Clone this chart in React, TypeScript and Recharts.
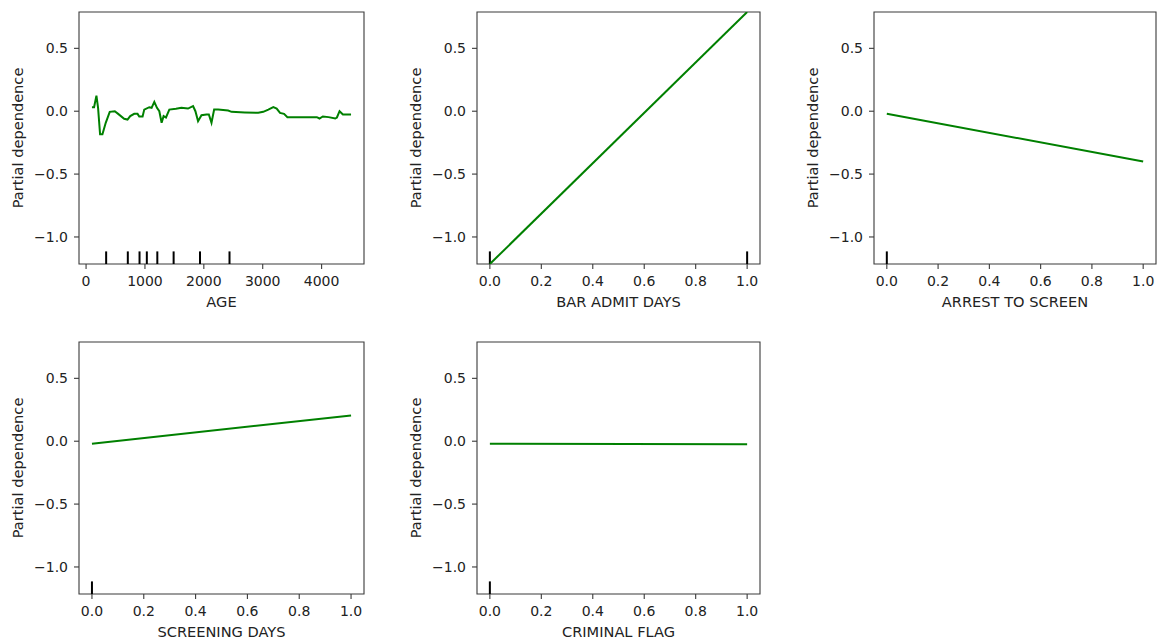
import { LineChart, Line, XAxis, YAxis, ReferenceLine, ReferenceArea, Label } from 'recharts';

// AGE partial dependence curve
const ageX = [
  100, 136, 176, 204, 238, 278, 334, 402, 488, 545,
  647, 704, 750, 818, 874, 903, 960, 988, 1073, 1113,
  1159, 1204, 1244, 1283, 1317, 1357, 1414, 1527, 1619, 1731,
  1817, 1857, 1902, 1960, 2045, 2085, 2130, 2175, 2243, 2413,
  2470, 2697, 2924, 3009, 3095, 3180, 3237, 3294, 3362, 3419,
  3577, 3919, 3964, 4021, 4118, 4231, 4260, 4305, 4362, 4431,
  4500,
];
const ageY = [
  0.032, 0.032, 0.124, 0.027, -0.184, -0.184, -0.092, -0.005, 0.0, -0.021,
  -0.06, -0.066, -0.039, -0.021, -0.021, -0.042, -0.042, 0.013, 0.032, 0.027,
  0.074, 0.027, 0.0, -0.092, -0.039, -0.05, 0.013, 0.02, 0.027, 0.021,
  0.04, 0.0, -0.079, -0.032, -0.026, -0.026, -0.092, 0.013, 0.013, 0.005,
  -0.005, -0.01, -0.013, -0.005, 0.013, 0.032, 0.021, -0.013, -0.021, -0.047,
  -0.047, -0.047, -0.058, -0.042, -0.047, -0.058, -0.05, 0.0, -0.026, -0.026,
  -0.026,
];
const ageDeciles = [341, 709, 908, 1032, 1210, 1487, 1935, 2436];

// binary features: value at 0 and at 1
const unitX = [0, 1];
const barAdmitY = [-1.215, 0.789];
const arrestY = [-0.02, -0.4];
const screeningY = [-0.02, 0.205];
const criminalY = [-0.02, -0.025];
const barAdmitDeciles = [0, 1];
const zeroDeciles = [0];

const ageTicks = [0, 1000, 2000, 3000, 4000];
const unitTicks = [0, 0.2, 0.4, 0.6, 0.8, 1.0];
const yTicks = [-1.0, -0.5, 0.0, 0.5];
const Y_DOMAIN: [number, number] = [-1.215, 0.789];

const GREEN = '#008000';
const INK = '#222';
const SPINE = '#3a3a3a';
const FONT = 'DejaVu Sans, sans-serif';

const fmtY = (v: number) => (v < 0 ? '\u2212' + Math.abs(v).toFixed(1) : v.toFixed(1));
const fmtUnit = (v: number) => v.toFixed(1);
const fmtAge = (v: number) => String(v);

const Y_AXIS_W = 79;
const TOP = 12;
const PLOT_H = 252;
const X_AXIS_H = 50;

type PanelProps = {
  name: string;
  xs: number[];
  ys: number[];
  deciles: number[];
  xDomain: [number, number];
  xTicks: number[];
  fmtX: (v: number) => string;
  plotLeft: number;
  plotTop: number;
  plotW: number;
};

function YTitle() {
  const cx = Y_AXIS_W - 62;
  const cy = TOP + PLOT_H / 2;
  return (
    <text
      x={cx}
      y={cy}
      transform={`rotate(-90, ${cx}, ${cy})`}
      textAnchor="middle"
      dominantBaseline="central"
      fill={INK}
      fontSize={14.6}
      fontFamily={FONT}
    >
      Partial dependence
    </text>
  );
}

function PdpPanel(p: PanelProps) {
  const data = p.xs.map((x, i) => ({ x, y: p.ys[i] }));
  const rugTop = Y_DOMAIN[0] + 0.05 * (Y_DOMAIN[1] - Y_DOMAIN[0]);
  return (
    <div style={{ position: 'absolute', left: p.plotLeft - Y_AXIS_W, top: p.plotTop - TOP }}>
      <LineChart
        width={Y_AXIS_W + p.plotW + 1}
        height={TOP + PLOT_H + X_AXIS_H}
        data={data}
        margin={{ top: TOP, right: 1, bottom: 0, left: 0 }}
      >
        <XAxis
          dataKey="x"
          type="number"
          domain={p.xDomain}
          allowDataOverflow
          ticks={p.xTicks}
          tickFormatter={p.fmtX}
          height={X_AXIS_H}
          axisLine={false}
          tickSize={5}
          tickMargin={7}
          tickLine={{ stroke: SPINE, strokeWidth: 1.1 }}
          tick={{ fill: INK, fontSize: 14, fontFamily: FONT }}
          interval={0}
        >
          <Label value={p.name} position="insideBottom" offset={7} fill={INK} fontSize={14.6} fontFamily={FONT} />
        </XAxis>
        <YAxis
          type="number"
          domain={Y_DOMAIN}
          allowDataOverflow
          ticks={yTicks}
          tickFormatter={fmtY}
          width={Y_AXIS_W}
          axisLine={false}
          tickSize={5}
          tickMargin={6}
          tickLine={{ stroke: SPINE, strokeWidth: 1.1 }}
          tick={{ fill: INK, fontSize: 14, fontFamily: FONT }}
          interval={0}
          label={<YTitle />}
        />
        <ReferenceArea
          x1={p.xDomain[0]}
          x2={p.xDomain[1]}
          y1={Y_DOMAIN[0]}
          y2={Y_DOMAIN[1]}
          fill="none"
          stroke={SPINE}
          strokeWidth={1.1}
          ifOverflow="visible"
        />
        {p.deciles.map((d) => (
          <ReferenceLine
            key={d}
            segment={[{ x: d, y: Y_DOMAIN[0] }, { x: d, y: rugTop }]}
            stroke="#000"
            strokeWidth={2}
            ifOverflow="visible"
          />
        ))}
        <Line
          type="linear"
          dataKey="y"
          stroke={GREEN}
          strokeWidth={2}
          dot={false}
          isAnimationActive={false}
        />
      </LineChart>
    </div>
  );
}

export default function App() {
  const ageDomain: [number, number] = [-120, 4720];
  const unitDomain: [number, number] = [-0.05, 1.05];
  return (
    <div
      style={{
        position: 'absolute',
        left: 0,
        top: 0,
        width: 1157,
        height: 637,
        overflow: 'hidden',
        background: '#fff',
        fontFamily: FONT,
      }}
    >
      <PdpPanel name="AGE" xs={ageX} ys={ageY} deciles={ageDeciles} xDomain={ageDomain}
        xTicks={ageTicks} fmtX={fmtAge} plotLeft={79} plotTop={12} plotW={285} />
      <PdpPanel name="BAR ADMIT DAYS" xs={unitX} ys={barAdmitY} deciles={barAdmitDeciles} xDomain={unitDomain}
        xTicks={unitTicks} fmtX={fmtUnit} plotLeft={477} plotTop={12} plotW={283} />
      <PdpPanel name="ARREST TO SCREEN" xs={unitX} ys={arrestY} deciles={zeroDeciles} xDomain={unitDomain}
        xTicks={unitTicks} fmtX={fmtUnit} plotLeft={874} plotTop={12} plotW={282} />
      <PdpPanel name="SCREENING DAYS" xs={unitX} ys={screeningY} deciles={zeroDeciles} xDomain={unitDomain}
        xTicks={unitTicks} fmtX={fmtUnit} plotLeft={79} plotTop={342} plotW={285} />
      <PdpPanel name="CRIMINAL FLAG" xs={unitX} ys={criminalY} deciles={zeroDeciles} xDomain={unitDomain}
        xTicks={unitTicks} fmtX={fmtUnit} plotLeft={477} plotTop={342} plotW={283} />
    </div>
  );
}
